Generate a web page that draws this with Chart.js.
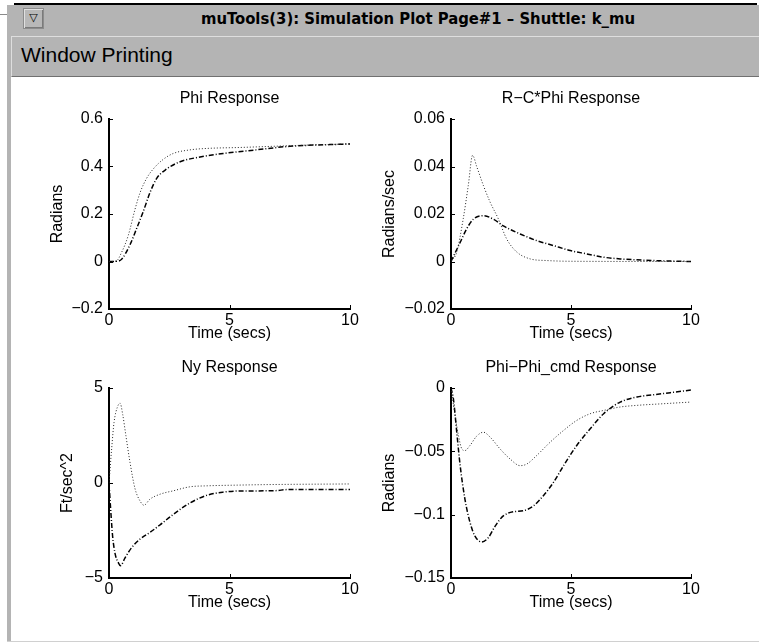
<!DOCTYPE html>
<html>
<head>
<meta charset="utf-8">
<script src="https://cdn.jsdelivr.net/npm/chart.js@4.4.1/dist/chart.umd.min.js"></script>
<style>
  body { margin: 0; width: 759px; height: 643px; overflow: hidden; background: #fff; position: relative; font-family: "Liberation Sans", Arial, sans-serif; }
  .abs { position: absolute; }
  #cornerA { left: 7px; top: 5px; width: 7px; height: 9px; border-top: 1px solid #8a8a8a; border-left: 1px solid #8a8a8a; }
  #cornerB { left: 0px; top: 14px; width: 7px; border-top: 1px solid #8a8a8a; }
  #topline { left: 14px; top: 3px; width: 743px; height: 2px; background: #000; }
  #titlebar { left: 7px; top: 5px; width: 752px; height: 31px; background: #b4b4b4; }
  #btn { left: 23px; top: 8px; width: 19px; height: 19px; background: #b8b8b8; border: 1px solid #8c8c8c; box-shadow: inset 1px 1px 0 #e0e0e0, inset -1px -1px 0 #7a7a7a; font: 11px "DejaVu Sans", sans-serif; text-align: center; line-height: 18px; color: #000; }
  #title { left: 0; top: 9px; width: 836px; text-align: center; font: bold 16.5px "DejaVu Sans Condensed", "DejaVu Sans", sans-serif; font-stretch: condensed; color: #000; white-space: nowrap; }
  #menubar { left: 11px; top: 36px; width: 748px; height: 39px; background: #b4b4b4; border-top: 1px solid #dedede; border-left: 1px solid #dedede; border-bottom: 1px solid #707070; }
  #menu { left: 21px; top: 43px; font-size: 21px; color: #000; white-space: nowrap; }
  #leftbar { left: 7px; top: 36px; width: 4px; height: 605px; background: #b4b4b4; }
  #bottomline { left: 7px; top: 641px; width: 752px; height: 1px; background: #d0d0d0; }
  canvas { position: absolute; }
</style>
</head>
<body>
<div class="abs" id="cornerA"></div>
<div class="abs" id="cornerB"></div>
<div class="abs" id="titlebar"></div>
<div class="abs" id="topline"></div>
<div class="abs" id="btn">▽</div>
<div class="abs" id="title">muTools(3): Simulation Plot Page#1 – Shuttle: k_mu</div>
<div class="abs" id="leftbar"></div>
<div class="abs" id="menubar"></div>
<div class="abs" id="menu">Window Printing</div>
<div class="abs" id="bottomline"></div>

<canvas id="c1" width="350" height="270" style="left:20px;top:80px"></canvas>
<canvas id="c2" width="399" height="270" style="left:360px;top:80px"></canvas>
<canvas id="c3" width="350" height="270" style="left:20px;top:349px"></canvas>
<canvas id="c4" width="399" height="270" style="left:360px;top:349px"></canvas>

<script>
// x axis ticks (seconds)
const timeTicks = [0, 5, 10];

// Phi Response
const phiDotT = [0, 0.3, 0.53, 0.8, 1.08, 1.29, 1.56, 1.84, 2.25, 2.67, 3.36, 4.05, 5.4, 6.8, 8.2, 10];
const phiDotV = [0, 0.002, 0.04, 0.11, 0.22, 0.29, 0.35, 0.39, 0.43, 0.455, 0.47, 0.476, 0.48, 0.485, 0.49, 0.495];
const phiDashT = [0, 0.4, 0.53, 0.87, 1.15, 1.42, 1.7, 1.98, 2.4, 2.95, 3.78, 4.74, 6.1, 7.5, 10];
const phiDashV = [0, 0.002, 0.01, 0.07, 0.14, 0.21, 0.29, 0.35, 0.39, 0.42, 0.44, 0.455, 0.47, 0.485, 0.495];

// R-C*Phi Response
const rcDotT = [0, 0.24, 0.51, 0.72, 0.9, 1.07, 1.35, 1.63, 1.97, 2.32, 2.74, 3.3, 4, 5, 10];
const rcDotV = [0, 0.004, 0.018, 0.032, 0.0447, 0.04, 0.032, 0.025, 0.018, 0.0095, 0.004, 0.0011, 0.0004, 0.0001, 0];
const rcDashT = [0, 0.38, 0.65, 0.93, 1.35, 1.77, 2.18, 2.88, 3.57, 4.27, 4.97, 5.66, 6.36, 7.05, 8.44, 10];
const rcDashV = [0, 0.008, 0.0137, 0.0178, 0.0193, 0.0178, 0.015, 0.0116, 0.0088, 0.0067, 0.0046, 0.0032, 0.0018, 0.0011, 0.0004, 0];

// Ny Response
const nyDotT = [0, 0.11, 0.21, 0.35, 0.46, 0.57, 0.7, 0.87, 1.08, 1.29, 1.45, 1.7, 2.12, 2.67, 3.36, 4.05, 5.4, 6.8, 10];
const nyDotV = [0, 1.8, 3.2, 4.0, 4.2, 3.6, 2.5, 1.1, -0.3, -0.95, -1.17, -0.85, -0.59, -0.41, -0.2, -0.15, -0.11, -0.08, -0.05];
const nyDashT = [0, 0.07, 0.15, 0.25, 0.39, 0.48, 0.66, 0.94, 1.29, 1.7, 2.12, 2.67, 3.36, 4.05, 4.74, 5.4, 6.8, 7.5, 10];
const nyDashV = [0, -1.4, -2.8, -3.7, -4.2, -4.35, -3.95, -3.4, -2.95, -2.6, -2.2, -1.65, -1.05, -0.65, -0.48, -0.42, -0.41, -0.34, -0.34];

// Phi-Phi_cmd Response
const errDotT = [0, 0.17, 0.31, 0.45, 0.58, 0.79, 1.07, 1.35, 1.63, 2.04, 2.46, 2.88, 3.16, 3.57, 4.13, 4.69, 5.24, 5.8, 6.36, 7.05, 7.75, 8.86, 10];
const errDotV = [0, -0.0217, -0.0375, -0.048, -0.0494, -0.0454, -0.038, -0.0349, -0.0388, -0.048, -0.056, -0.0613, -0.06, -0.0533, -0.0428, -0.0335, -0.0256, -0.0203, -0.0177, -0.015, -0.0137, -0.0124, -0.0111];
const errDashT = [0, 0.1, 0.24, 0.38, 0.58, 0.79, 1.0, 1.28, 1.56, 1.84, 2.18, 2.6, 3.02, 3.44, 3.85, 4.27, 4.69, 5.24, 5.8, 6.36, 7.05, 7.75, 8.44, 9.14, 10];
const errDashV = [0, -0.0085, -0.035, -0.061, -0.0877, -0.106, -0.117, -0.1215, -0.118, -0.109, -0.101, -0.0977, -0.0969, -0.093, -0.085, -0.0745, -0.0613, -0.0454, -0.0322, -0.0203, -0.0111, -0.0071, -0.0053, -0.0037, -0.0016];

const font16 = { family: "'Liberation Sans', Arial, sans-serif", size: 16, weight: 'normal' };

// small tick marks pointing into the plot, matlab style
const inwardTicks = {
  id: 'inwardTicks',
  afterDraw(chart) {
    const { ctx, chartArea, scales } = chart;
    ctx.save();
    ctx.strokeStyle = '#000';
    ctx.lineWidth = 1;
    scales.x.ticks.forEach(t => {
      const px = Math.round(scales.x.getPixelForValue(t.value)) + 0.5;
      ctx.beginPath(); ctx.moveTo(px, chartArea.bottom); ctx.lineTo(px, chartArea.bottom - 4); ctx.stroke();
    });
    scales.y.ticks.forEach(t => {
      const py = Math.round(scales.y.getPixelForValue(t.value)) + 0.5;
      ctx.beginPath(); ctx.moveTo(chartArea.left, py); ctx.lineTo(chartArea.left + 4, py); ctx.stroke();
    });
    ctx.restore();
  }
};

function pts(t, v) {
  return t.map((x, i) => ({ x: x, y: v[i] }));
}

function makeChart(id, title, yTitle, yMin, yMax, yStep, dot, dash, yWidth, yTitlePad, padRight) {
  new Chart(document.getElementById(id), {
    type: 'scatter',
    data: {
      datasets: [
        { data: dot, showLine: true, borderColor: '#222', borderWidth: 1, borderDash: [1, 2], pointRadius: 0, cubicInterpolationMode: 'monotone' },
        { data: dash, showLine: true, borderColor: '#000', borderWidth: 1.5, borderDash: [5, 2, 1, 2], pointRadius: 0, cubicInterpolationMode: 'monotone' }
      ]
    },
    options: {
      responsive: false,
      animation: false,
      layout: { padding: { left: 0, right: padRight, top: 0, bottom: 0 } },
      plugins: {
        legend: { display: false },
        tooltip: { enabled: false },
        title: { display: true, text: title, color: '#000', font: font16, fullSize: false, padding: { top: 9.4, bottom: 10.4 } }
      },
      scales: {
        x: {
          type: 'linear', min: 0, max: 10,
          afterBuildTicks: s => { s.ticks = timeTicks.map(v => ({ value: v })); },
          grid: { display: false, drawTicks: false },
          border: { display: true, color: '#000', width: 2 },
          ticks: { color: '#000', font: font16, padding: 2, maxRotation: 0 },
          title: { display: true, text: 'Time (secs)', color: '#000', font: font16, padding: { top: 0, bottom: 6.4 } },
          afterFit: s => { s.height = 41; s.paddingLeft = 0; s.paddingRight = 0; }
        },
        y: {
          min: yMin, max: yMax,
          ticks: { stepSize: yStep, color: '#000', font: font16, padding: 6,
                   callback: v => String(+v.toFixed(3)).replace('-', '\u2212') },
          grid: { display: false, drawTicks: false },
          border: { display: true, color: '#000', width: 2 },
          title: { display: true, text: yTitle, color: '#000', font: font16, padding: { top: yTitlePad, bottom: 0 } },
          afterFit: s => { s.width = yWidth; s.paddingTop = 0; s.paddingBottom = 0; }
        }
      }
    },
    plugins: [inwardTicks]
  });
}

makeChart('c1', 'Phi Response', 'Radians', -0.2, 0.6, 0.2, pts(phiDotT, phiDotV), pts(phiDashT, phiDashV), 89, 28.4, 20);
makeChart('c2', 'R\u2212C*Phi Response', 'Radians/sec', -0.02, 0.06, 0.02, pts(rcDotT, rcDotV), pts(rcDashT, rcDashV), 91, 20.4, 68);
makeChart('c3', 'Ny Response', 'Ft/sec^2', -5, 5, 5, pts(nyDotT, nyDotV), pts(nyDashT, nyDashV), 89, 38.4, 20);
makeChart('c4', 'Phi\u2212Phi_cmd Response', 'Radians', -0.15, 0, 0.05, pts(errDotT, errDotV), pts(errDashT, errDashV), 91, 20.4, 68);
</script>
</body>
</html>
